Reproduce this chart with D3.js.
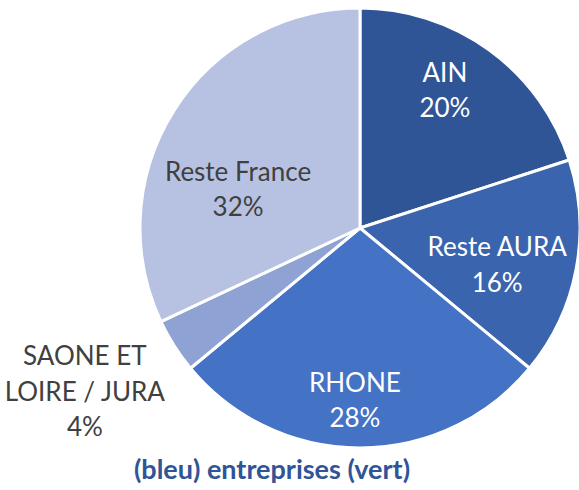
<!DOCTYPE html>
<html>
<head>
<meta charset="utf-8">
<style>
  body { margin: 0; background: #fff; }
  svg { display: block; font-family: Lato, "Open Sans", sans-serif; }
</style>
</head>
<body>
<svg id="chart" width="579" height="490"></svg>
<script src="https://cdn.jsdelivr.net/npm/d3@7"></script>
<script>
  // data
  const categories = ["AIN", "Reste AURA", "RHONE", "SAONE ET LOIRE / JURA", "Reste France"]
  const values = [20, 16, 28, 4, 32]
  const colors = ["#2F5597", "#3A64AD", "#4472C4", "#8FA2D4", "#B7C2E3"]
  const title = "(bleu) entreprises (vert)"

  // label placement: radius (px) and angle (deg, clockwise from 12 o'clock)
  const labelPos = [
    { r: 162, a: 31.6, lines: ["AIN"], fill: "#fff" },
    { r: 142, a: 105, lines: ["Reste AURA"], fill: "#fff" },
    { r: 172, a: 181.7, lines: ["RHONE"], fill: "#fff" },
    { r: 320, a: 239.3, lines: ["SAONE ET", "LOIRE / JURA"], fill: "#404040" },
    { r: 128, a: 287.7, lines: ["Reste France"], fill: "#404040" }
  ]

  let svg = d3.select("#chart")
  let cx = 360, cy = 228, radius = 220

  let total = d3.sum(values)
  let data = categories.map((c, i) => ({ name: c, value: values[i], idx: i }))

  let pie = d3.pie().sort(null).value(d => d.value)
  let arc = d3.arc().innerRadius(0).outerRadius(radius)

  let g = svg.append("g").attr("transform", `translate(${cx},${cy})`)

  g.selectAll("path")
    .data(pie(data))
    .enter()
    .append("path")
      .attr("d", arc)
      .attr("fill", d => colors[d.data.idx])
      .attr("stroke", "#fff")
      .attr("stroke-width", 3)
      .attr("stroke-linejoin", "round")

  let lineH = 35.5
  g.selectAll("text.lbl")
    .data(pie(data))
    .enter()
    .append("text")
      .attr("class", "lbl")
      .attr("font-size", 26)
      .attr("text-anchor", "middle")
      .attr("fill", d => labelPos[d.data.idx].fill)
      .each(function (d) {
        let p = labelPos[d.data.idx]
        let rad = p.a * Math.PI / 180
        let x = p.r * Math.sin(rad)
        let y = -p.r * Math.cos(rad)
        let lines = p.lines.concat([Math.round(d.data.value / total * 100) + "%"])
        let y0 = y - (lines.length - 1) * lineH / 2
        d3.select(this).selectAll("tspan")
          .data(lines)
          .enter()
          .append("tspan")
            .attr("x", x)
            .attr("y", (l, i) => y0 + i * lineH)
            .attr("dy", "0.36em")
            .text(l => l)
      })

  svg.append("text")
    .attr("x", 272)
    .attr("y", 469)
    .attr("dy", "0.36em")
    .attr("text-anchor", "middle")
    .attr("font-size", 27)
    .attr("font-weight", "bold")
    .attr("fill", "#2F5597")
    .text(title)
</script>
</body>
</html>
